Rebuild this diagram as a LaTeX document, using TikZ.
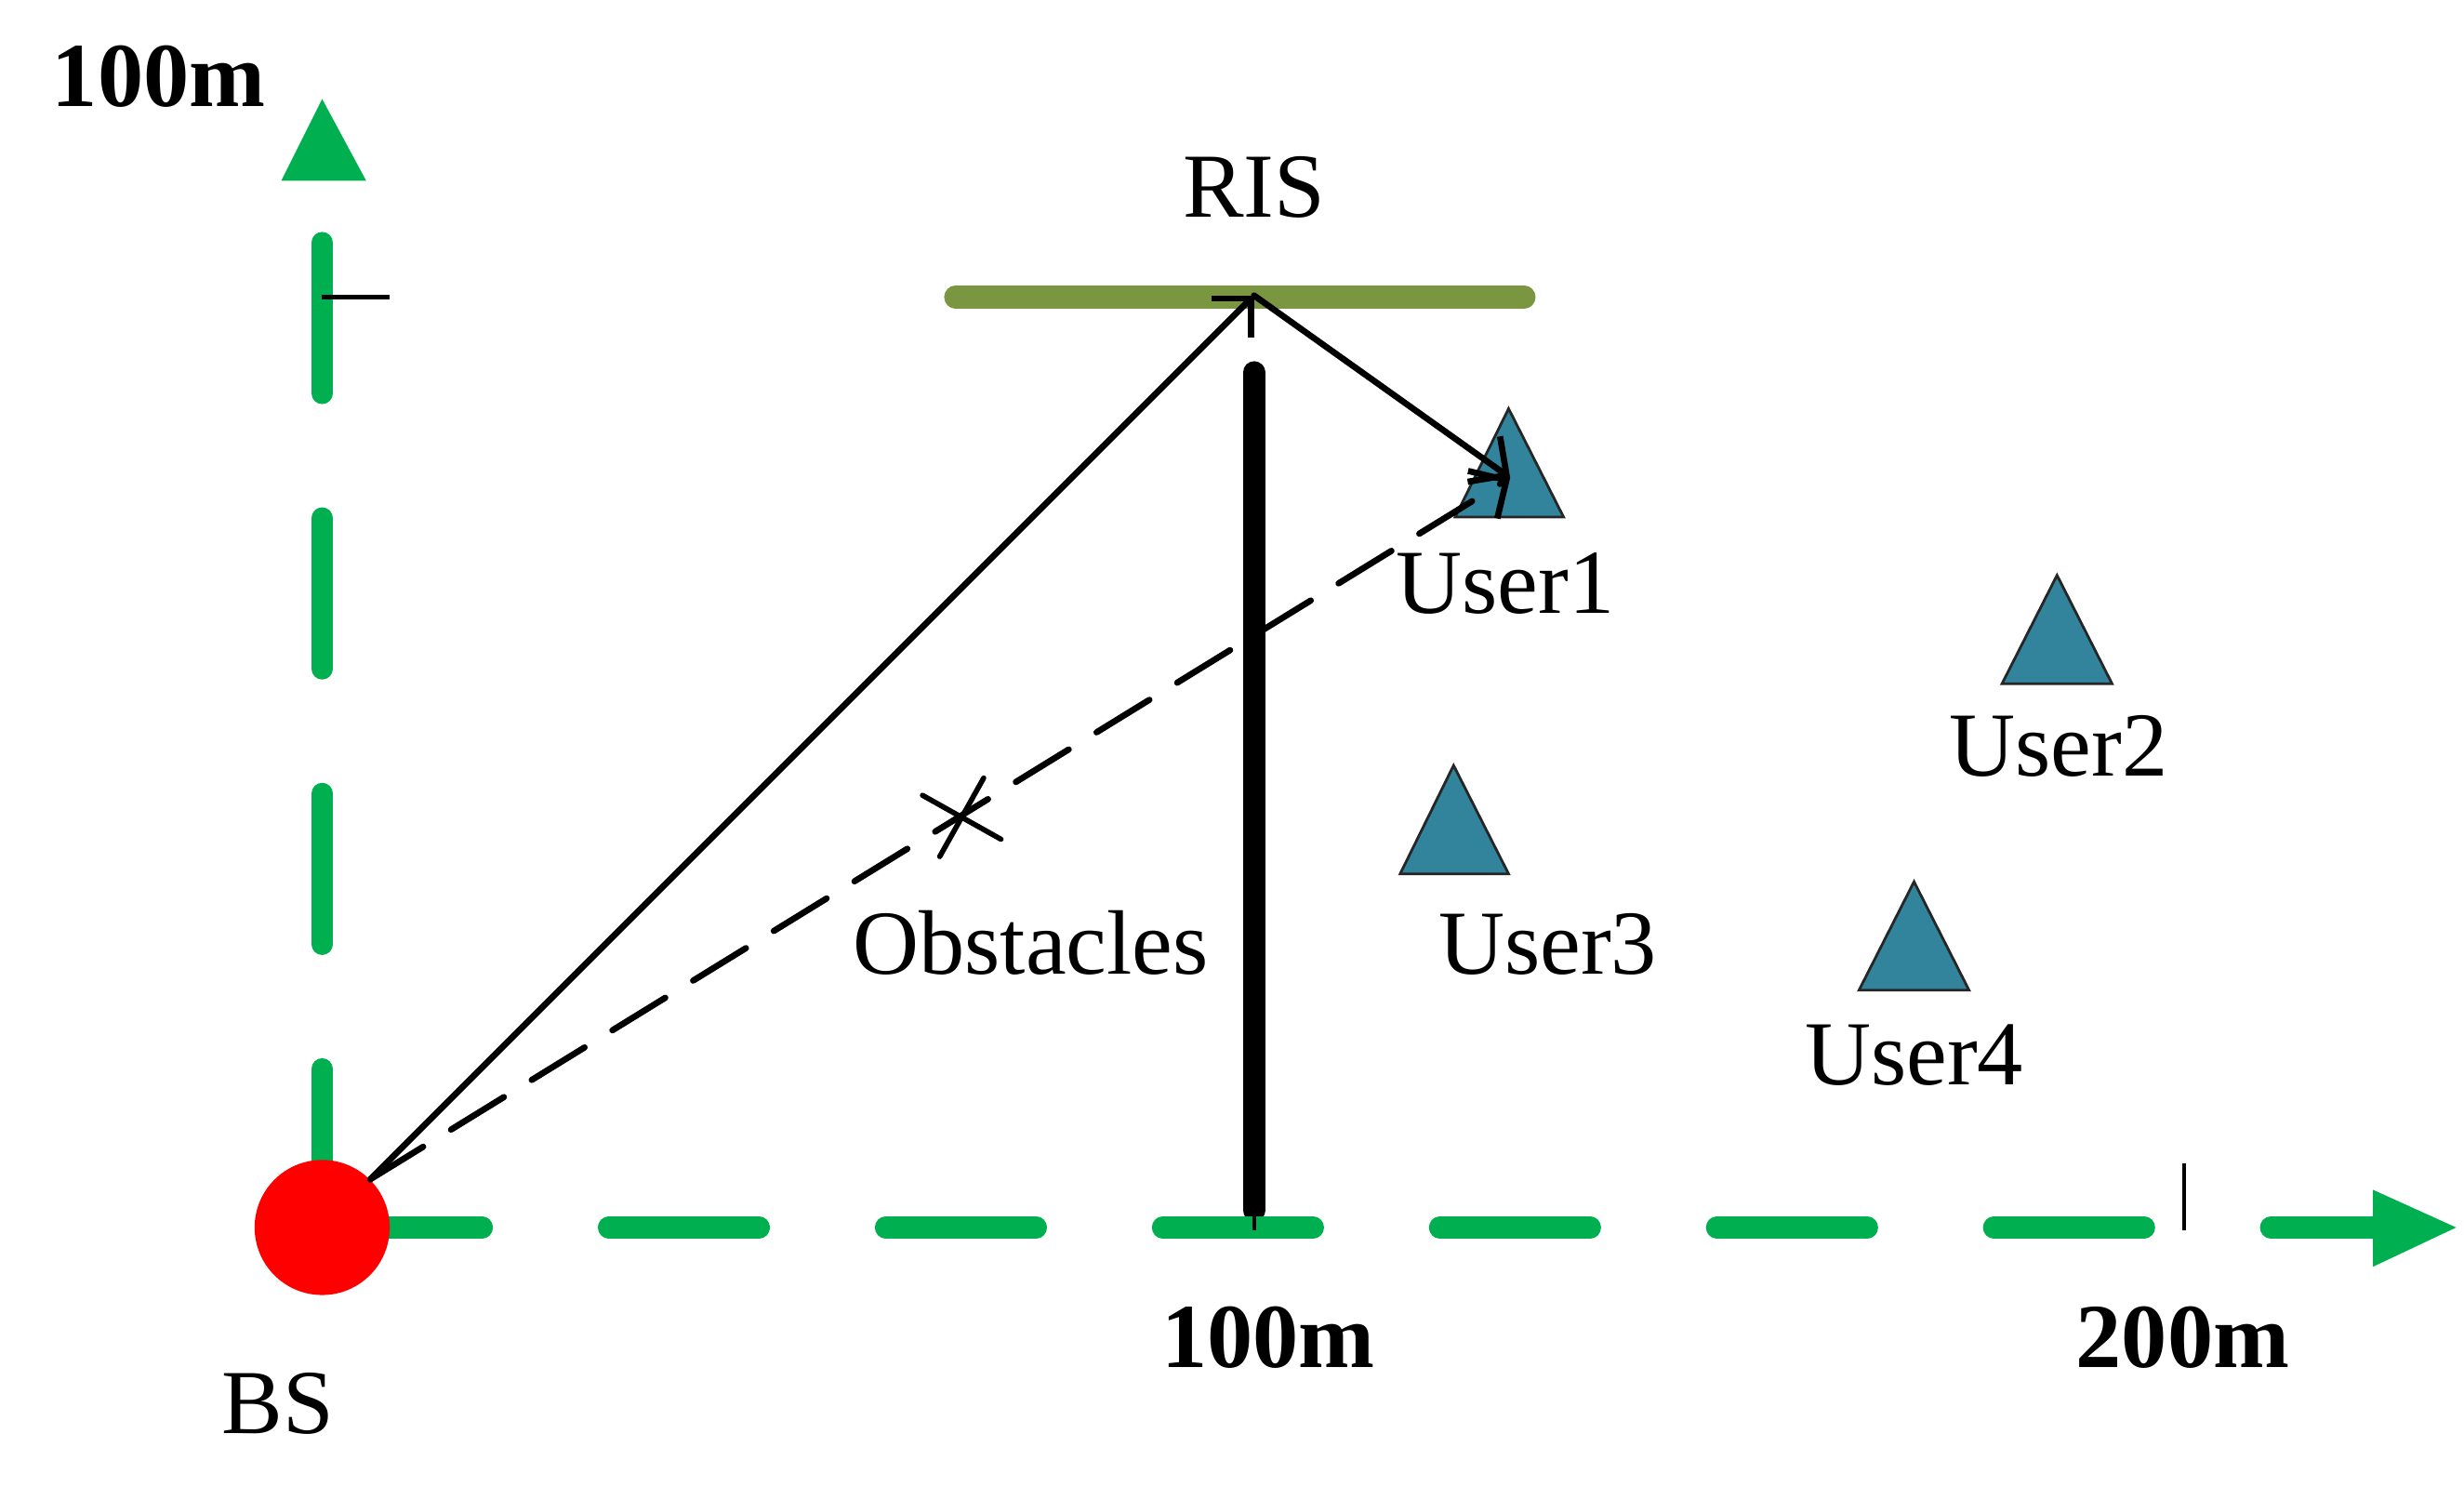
\documentclass[tikz,border=0pt]{standalone}
\usepackage{fontspec}
\setmainfont{Liberation Serif}
\usetikzlibrary{arrows.meta}
\definecolor{axisgreen}{HTML}{00B050}
\definecolor{risolive}{HTML}{7A9641}
\definecolor{userteal}{HTML}{31849B}
\begin{document}
\begin{tikzpicture}[x=0.0169cm, y=-0.0169cm,
  lbl/.style={font=\fontsize{28}{32}\selectfont, inner sep=0pt, anchor=base},
  blbl/.style={font=\fontsize{28}{32}\selectfont\bfseries, inner sep=0pt, anchor=base},
  gaxis/.style={draw=axisgreen, line width=6.6pt, line cap=round},
  ray/.style={line width=1.9pt, line cap=round, -{Straight Barb[length=0.3cm,width=0.6cm]}},
  ticky/.style={line width=1.2pt},
  xmark/.style={line width=1.6pt, line cap=round},
  utri/.style={fill=userteal, draw=black!85, line width=0.8pt, line join=miter},
  bsnode/.style={circle, fill=red, minimum size=1.453cm, inner sep=0pt}
]
\useasboundingbox (0,0) rectangle (1568,954);

% obstacle wall
\draw[line width=6.9pt, line cap=round] (798,237) -- (798,770);

% axes
\draw[gaxis, dash pattern=on 46.1pt off 38.7pt] (211,781) -- (1515,781);
\draw[gaxis, dash pattern=on 46.1pt off 38.2pt] (205,776) -- (205,151);
\fill[axisgreen] (1510,757) -- (1563,781) -- (1510,806) -- cycle;
\fill[axisgreen] (179,115) -- (205,63) -- (233,115) -- cycle;

% ticks
\draw[ticky] (205,189) -- (248,189);
\draw[ticky] (1390,740) -- (1390,783);
\draw[ticky] (798,770) -- (798,783);

% RIS
\draw[risolive, line width=6.9pt, line cap=round] (608,189) -- (970,189);
\coordinate (risC) at (798,188);

% users
\draw[utri] (960,260) -- (995,329) -- (926,329) -- cycle;
\draw[utri] (1309,366) -- (1344,435) -- (1274,435) -- cycle;
\draw[utri] (925,487) -- (960,556) -- (891,556) -- cycle;
\draw[utri] (1218,561) -- (1253,630) -- (1183,630) -- cycle;
\coordinate (u1tip) at (961,304);

% BS
\node[bsnode] (bs) at (205,781) {};

% rays
\draw[ray] (bs.45) -- (risC);
\draw[ray] (risC) -- (u1tip);
\draw[ray, dash pattern=on 19pt off 10pt] (bs.45) -- (u1tip);

% blocked mark
\draw[xmark] (587,506) -- (637,534);
\draw[xmark] (626,495) -- (598,545);

% labels
\node[blbl] (ylbl) at (101,68) {100m};
\node[blbl] (x100) at (807,870) {100m};
\node[blbl] (x200) at (1389,870) {200m};
\node[lbl] (rislbl) at (798,138) {RIS};
\node[lbl] (bslbl) at (177,912) {BS};
\node[lbl] (obs) at (656,620) {Obstacles};
\node[lbl] (u1) at (958,390) {User1};
\node[lbl] (u2) at (1310,494) {User2};
\node[lbl] (u3) at (985,620) {User3};
\node[lbl] (u4) at (1218,690) {User4};
\end{tikzpicture}
\end{document}
